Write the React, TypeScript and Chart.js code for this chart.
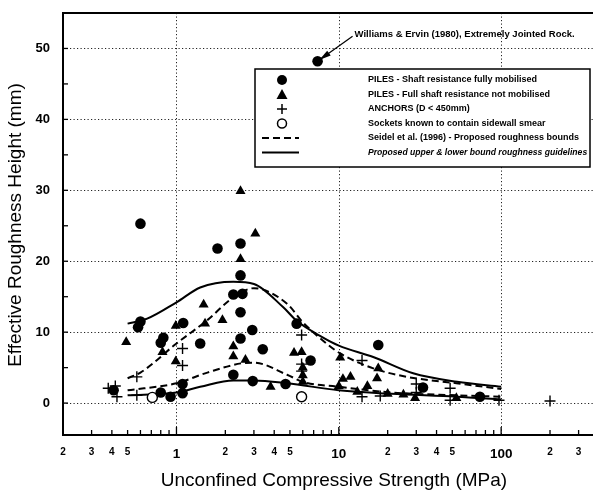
import React, { useEffect, useRef } from "react";
import { Chart, registerables } from "chart.js";

Chart.register(...registerables);

const FONT = "'Liberation Sans', Arial, Helvetica, sans-serif";

// ---------- Data (UCS in MPa, roughness height in mm) ----------
const pilesFullyMobilised: [number, number][] = [
  [0.6, 25.3], [1.79, 21.8], [2.48, 22.5], [2.48, 18.0], [2.24, 15.3], [2.55, 15.4],
  [2.48, 12.8], [2.93, 10.3], [2.48, 9.1], [3.4, 7.6], [1.4, 8.4], [1.1, 11.3],
  [0.6, 11.5], [0.58, 10.7], [0.8, 8.5], [0.83, 9.2], [2.24, 4.0], [2.95, 3.1],
  [4.7, 2.7], [5.5, 11.2], [6.7, 6.0], [17.5, 8.2], [33, 2.2], [74, 0.9],
  [0.41, 1.8], [0.8, 1.5], [0.92, 0.9], [1.09, 1.4], [1.09, 2.7],
];
const williamsErvin: [number, number][] = [[7.4, 48.2]];

const pilesNotMobilised: [number, number][] = [
  [2.48, 29.9], [3.06, 23.9], [2.48, 20.3], [1.47, 13.9], [1.92, 11.7], [1.5, 11.2],
  [0.99, 10.9], [0.49, 8.6], [0.82, 7.2], [0.99, 5.9], [2.24, 8.0], [2.24, 6.6],
  [2.66, 6.1], [3.8, 2.3], [5.3, 7.1], [5.9, 7.2], [6.0, 5.0], [6.0, 3.9], [6.0, 3.0],
  [10.2, 6.4], [17.5, 4.9], [17.2, 3.5], [10.6, 3.4], [11.8, 3.7], [15, 2.4], [10, 2.4],
  [13, 1.6], [20, 1.3], [25, 1.2], [29.5, 0.7], [53, 0.7],
];

const anchors: [number, number][] = [
  [0.38, 2.1], [0.42, 2.4], [0.43, 0.9], [0.57, 1.1], [0.57, 3.7], [1.09, 7.7],
  [1.09, 5.3], [5.9, 9.6], [5.9, 5.5], [5.9, 4.5], [13.9, 6.0], [13.9, 0.9],
  [18, 1.0], [30, 2.7], [30, 1.5], [48.5, 2.1], [48.5, 0.4], [97, 0.4], [200, 0.3],
];

const sidewallSmear: [number, number][] = [[0.71, 0.8], [5.9, 0.9]];

// Seidel et al. (1996) bounds (dashed)
const seidelUpperX = [0.5, 0.6, 1.0, 1.55, 2.24, 3.0, 4.8, 6.0, 8.0, 10.2, 16.3, 26.3, 53, 100];
const seidelUpperY = [3.5, 4.3, 8.4, 11.7, 14.9, 16.2, 14.0, 11.4, 8.8, 7.0, 4.9, 3.7, 2.8, 2.0];
const seidelLowerX = [0.5, 1.0, 1.55, 2.5, 3.0, 4.8, 6.0, 10, 21, 53, 100];
const seidelLowerY = [1.8, 2.8, 4.3, 5.6, 5.7, 4.0, 3.0, 2.3, 1.5, 1.1, 0.9];

// Proposed guidelines (solid)
const guideUpperX = [0.5, 0.66, 1.0, 1.4, 2.24, 3.0, 4.55, 5.5, 7.9, 10, 16.3, 28.7, 53.5, 100];
const guideUpperY = [11.2, 11.9, 14.2, 16.3, 17.1, 16.8, 13.5, 11.6, 9.3, 8.1, 6.5, 4.2, 3.0, 2.3];
const guideLowerX = [0.5, 1.0, 1.4, 2.24, 3.0, 4.8, 10, 21, 53, 100];
const guideLowerY = [1.1, 1.5, 2.3, 3.2, 3.2, 2.8, 1.8, 1.3, 0.9, 0.5];

// Axis ticks
const xTickValues = [
  0.2, 0.3, 0.4, 0.5, 0.6, 0.7, 0.8, 0.9, 1, 2, 3, 4, 5, 6, 7, 8, 9, 10,
  20, 30, 40, 50, 60, 70, 80, 90, 100, 200, 300,
];
const xLabelled = [0.2, 0.3, 0.4, 0.5, 1, 2, 3, 4, 5, 10, 20, 30, 40, 50, 100, 200, 300];
const xMajor = [1, 10, 100];
const yTickValues = [0, 5, 10, 15, 20, 25, 30, 35, 40, 45, 50];
const yGrid = [0, 10, 20, 30, 40, 50];

const legendLabels = [
  "PILES - Shaft resistance fully mobilised",
  "PILES - Full shaft resistance not mobilised",
  "ANCHORS (D < 450mm)",
  "Sockets known to contain sidewall smear",
  "Seidel et al. (1996) - Proposed roughness bounds",
  "Proposed upper & lower bound roughness guidelines",
];
const annotationText = "Williams & Ervin (1980), Extremely Jointed Rock.";
const xTitle = "Unconfined Compressive Strength (MPa)";
const yTitle = "Effective Roughness Height (mm)";

const near = (a: number, b: number) => Math.abs(a - b) / b < 1e-6;

const decorPlugin = {
  id: "decor",
  beforeDatasetsDraw(chart: any) {
    const { ctx, chartArea: ca, scales } = chart;
    const xs = scales.x, ys = scales.y;
    ctx.save();
    ctx.strokeStyle = "#222";
    ctx.lineWidth = 1;
    ctx.setLineDash([1.2, 2.3]);
    for (const v of xMajor) {
      const px = Math.round(xs.getPixelForValue(v)) + 0.5;
      ctx.beginPath(); ctx.moveTo(px, ca.top); ctx.lineTo(px, ca.bottom); ctx.stroke();
    }
    for (const v of yGrid) {
      const py = Math.round(ys.getPixelForValue(v)) + 0.5;
      ctx.beginPath(); ctx.moveTo(ca.left, py); ctx.lineTo(ca.right, py); ctx.stroke();
    }
    ctx.restore();
  },
  afterDatasetsDraw(chart: any) {
    const { ctx, chartArea: ca, scales } = chart;
    const xs = scales.x, ys = scales.y;
    ctx.save();
    // frame
    ctx.strokeStyle = "#000";
    ctx.lineWidth = 2;
    ctx.setLineDash([]);
    ctx.beginPath();
    ctx.moveTo(ca.right, ca.top); ctx.lineTo(ca.left, ca.top);
    ctx.lineTo(ca.left, ca.bottom); ctx.lineTo(ca.right, ca.bottom);
    ctx.stroke();
    // tick marks
    ctx.lineWidth = 1.3;
    for (const v of xTickValues) {
      const px = xs.getPixelForValue(v);
      const len = xMajor.some((m) => near(v, m)) ? 8 : 5;
      ctx.beginPath(); ctx.moveTo(px, ca.bottom); ctx.lineTo(px, ca.bottom - len); ctx.stroke();
    }
    for (const v of yTickValues) {
      const py = ys.getPixelForValue(v);
      ctx.beginPath(); ctx.moveTo(ca.left, py); ctx.lineTo(ca.left + 5, py); ctx.stroke();
    }

    // annotation arrow for Williams & Ervin
    const wx = xs.getPixelForValue(williamsErvin[0][0]);
    const wy = ys.getPixelForValue(williamsErvin[0][1]);
    const tx = wx + 35, ty = wy - 25;
    ctx.lineWidth = 1.2;
    ctx.beginPath(); ctx.moveTo(wx, wy); ctx.lineTo(tx, ty); ctx.stroke();
    const ang = Math.atan2(ty - wy, tx - wx);
    ctx.fillStyle = "#000";
    ctx.beginPath();
    ctx.moveTo(wx + Math.cos(ang) * 2, wy + Math.sin(ang) * 2);
    ctx.lineTo(wx + Math.cos(ang) * 14 - Math.sin(ang) * 3, wy + Math.sin(ang) * 14 + Math.cos(ang) * 3);
    ctx.lineTo(wx + Math.cos(ang) * 14 + Math.sin(ang) * 3, wy + Math.sin(ang) * 14 - Math.cos(ang) * 3);
    ctx.closePath(); ctx.fill();
    ctx.font = `bold 9.5px ${FONT}`;
    ctx.textAlign = "left";
    ctx.textBaseline = "middle";
    ctx.fillText(annotationText, tx + 2, ty - 2);

    // legend box
    const lx = 255, ly = 69, lw = 335, lh = 98;
    ctx.fillStyle = "#fff";
    ctx.fillRect(lx, ly, lw, lh);
    ctx.strokeStyle = "#000";
    ctx.lineWidth = 1.5;
    ctx.strokeRect(lx, ly, lw, lh);
    const rows = [80, 94.5, 109, 123.5, 138, 152.5];
    const mx = 282;
    ctx.fillStyle = "#000";
    ctx.beginPath(); ctx.arc(mx, rows[0], 5, 0, Math.PI * 2); ctx.fill();
    ctx.beginPath();
    ctx.moveTo(mx, rows[1] - 5.5); ctx.lineTo(mx + 5.5, rows[1] + 4.5); ctx.lineTo(mx - 5.5, rows[1] + 4.5);
    ctx.closePath(); ctx.fill();
    ctx.lineWidth = 1.5;
    ctx.beginPath();
    ctx.moveTo(mx - 5, rows[2]); ctx.lineTo(mx + 5, rows[2]);
    ctx.moveTo(mx, rows[2] - 5); ctx.lineTo(mx, rows[2] + 5);
    ctx.stroke();
    ctx.beginPath(); ctx.arc(mx, rows[3], 4.5, 0, Math.PI * 2); ctx.stroke();
    ctx.lineWidth = 2;
    ctx.setLineDash([7, 4]);
    ctx.beginPath(); ctx.moveTo(262, rows[4]); ctx.lineTo(299, rows[4]); ctx.stroke();
    ctx.setLineDash([]);
    ctx.beginPath(); ctx.moveTo(262, rows[5]); ctx.lineTo(299, rows[5]); ctx.stroke();
    ctx.textBaseline = "middle";
    legendLabels.forEach((t, i) => {
      ctx.font = i === 5 ? `italic bold 8.6px ${FONT}` : `bold 9px ${FONT}`;
      ctx.fillText(t, 368, rows[i]);
    });

    // axis titles
    ctx.font = `19px ${FONT}`;
    ctx.textAlign = "center";
    ctx.textBaseline = "middle";
    ctx.fillText(xTitle, 334, 481);
    ctx.save();
    ctx.translate(16, (ca.top + ca.bottom) / 2 + 1);
    ctx.rotate(-Math.PI / 2);
    ctx.fillText(yTitle, 0, 0);
    ctx.restore();
    ctx.restore();
  },
};

export default function App() {
  const ref = useRef<HTMLCanvasElement>(null);
  useEffect(() => {
    const canvas = ref.current;
    if (!canvas) return;
    const pts = (arr: [number, number][]) => arr.map(([x, y]) => ({ x, y }));
    const curve = (xs: number[], ys: number[]) => xs.map((x, i) => ({ x, y: ys[i] }));
    const lineDs = (data: any[], dash: number[]) => ({
      type: "line" as const,
      data,
      borderColor: "#000",
      borderWidth: 2,
      borderDash: dash,
      pointRadius: 0,
      showLine: true,
      fill: false,
      cubicInterpolationMode: "monotone" as const,
    });
    const noPad = (s: any) => {
      s.paddingLeft = 0; s.paddingRight = 0; s.paddingTop = 0; s.paddingBottom = 0;
    };
    const chart = new Chart(canvas, {
      type: "scatter",
      data: {
        datasets: [
          { label: legendLabels[0], data: pts(pilesFullyMobilised), pointStyle: "circle", pointRadius: 5.3, backgroundColor: "#000", borderColor: "#000", borderWidth: 0 },
          { label: "Williams & Ervin", data: pts(williamsErvin), pointStyle: "circle", pointRadius: 5.3, backgroundColor: "#000", borderColor: "#000", borderWidth: 0 },
          { label: legendLabels[1], data: pts(pilesNotMobilised), pointStyle: "triangle", pointRadius: 5.8, backgroundColor: "#000", borderColor: "#000", borderWidth: 0 },
          { label: legendLabels[2], data: pts(anchors), pointStyle: "cross", pointRadius: 5.5, backgroundColor: "#000", borderColor: "#000", borderWidth: 1.4 },
          { label: legendLabels[3], data: pts(sidewallSmear), pointStyle: "circle", pointRadius: 5, backgroundColor: "#fff", borderColor: "#000", borderWidth: 1.4 },
          { label: "Seidel upper", ...lineDs(curve(seidelUpperX, seidelUpperY), [7, 4]) },
          { label: "Seidel lower", ...lineDs(curve(seidelLowerX, seidelLowerY), [7, 4]) },
          { label: "Guide upper", ...lineDs(curve(guideUpperX, guideUpperY), []) },
          { label: "Guide lower", ...lineDs(curve(guideLowerX, guideLowerY), []) },
        ] as any,
      },
      options: {
        animation: false,
        responsive: false,
        events: [],
        layout: { autoPadding: false, padding: { top: 13, right: 0, left: 0, bottom: 0 } },
        plugins: { legend: { display: false }, tooltip: { enabled: false } },
        scales: {
          x: {
            type: "logarithmic",
            min: 0.2,
            max: 368,
            grid: { display: false },
            border: { display: false },
            afterBuildTicks: (s: any) => { s.ticks = xTickValues.map((v) => ({ value: v })); },
            afterFit: (s: any) => { s.height = 57; noPad(s); },
            ticks: {
              autoSkip: false,
              maxRotation: 0,
              padding: 3,
              color: "#000",
              callback: (v: any) => {
                const n = Number(v);
                if (xMajor.some((m) => near(n, m))) return String(n);
                if (xLabelled.some((m) => near(n, m))) return String(n).replace(/[0.]/g, "").charAt(0);
                return "";
              },
              font: (c: any) => {
                const v = c.tick ? c.tick.value : 0;
                return xMajor.some((m) => near(v, m))
                  ? { family: FONT, size: 13.5, weight: "bold" }
                  : { family: FONT, size: 10, weight: "bold" };
              },
            },
          },
          y: {
            type: "linear",
            min: -4.5,
            max: 55,
            grid: { display: false },
            border: { display: false },
            afterBuildTicks: (s: any) => { s.ticks = yTickValues.map((v) => ({ value: v })); },
            afterFit: (s: any) => { s.width = 63; noPad(s); },
            ticks: {
              autoSkip: false,
              padding: 5,
              color: "#000",
              font: { family: FONT, size: 13, weight: "bold" },
              callback: (v: any) => (Number(v) % 10 === 0 ? String(v) : ""),
            },
          },
        },
      } as any,
      plugins: [decorPlugin],
    });
    return () => chart.destroy();
  }, []);
  return (
    <canvas
      ref={ref}
      width={593}
      height={492}
      style={{ position: "fixed", left: 0, top: 0, display: "block", background: "#fff" }}
    />
  );
}
